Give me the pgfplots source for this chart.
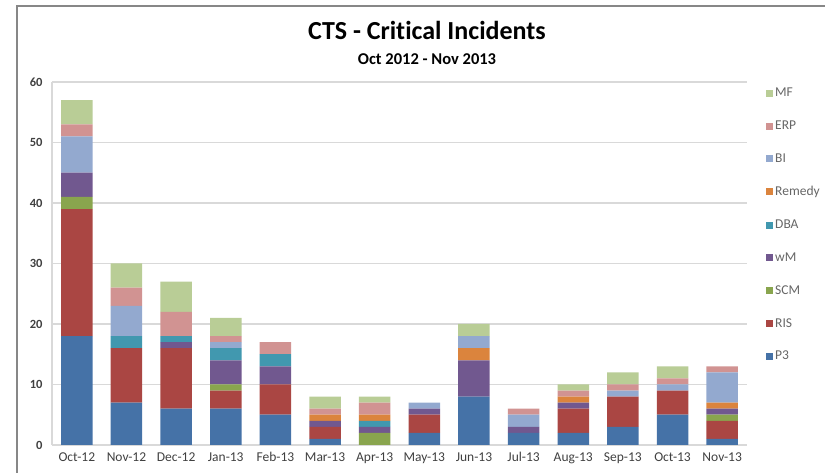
\documentclass[border=0pt]{standalone}
\usepackage{pgfplots}
\usepackage{pgfplotstable}
\usepackage{fontspec}
\setmainfont{Carlito}[Ligatures={NoCommon}]
\pgfplotsset{compat=1.18}

\definecolor{cP3}{HTML}{4572A7}
\definecolor{cRIS}{HTML}{AA4643}
\definecolor{cSCM}{HTML}{89A54E}
\definecolor{cwM}{HTML}{71588F}
\definecolor{cDBA}{HTML}{4198AF}
\definecolor{cRemedy}{HTML}{DB843D}
\definecolor{cBI}{HTML}{93A9CF}
\definecolor{cERP}{HTML}{D19392}
\definecolor{cMF}{HTML}{B9CD96}
\definecolor{gridgray}{HTML}{D9D9D9}
\definecolor{labelgray}{HTML}{404040}

% Critical incidents per month and system
\pgfplotstableread{
x  P3 RIS SCM wM DBA Remedy BI ERP MF
0  18 21  2   4  0   0      6  2   4
1  7  9   0   0  2   0      5  3   4
2  6  10  0   1  1   0      0  4   5
3  6  3   1   4  2   0      1  1   3
4  5  5   0   3  2   0      0  2   0
5  1  2   0   1  0   1      0  1   2
6  0  0   2   1  1   1      0  2   1
7  2  3   0   1  0   0      1  0   0
8  8  0   0   6  0   2      2  0   2
9  2  0   0   1  0   0      2  1   0
10 2  4   0   1  0   1      0  1   1
11 3  5   0   0  0   0      1  1   2
12 5  4   0   0  0   0      1  1   2
13 1  3   1   1  0   1      5  1   0
}\incidents

\begin{document}
\begin{tikzpicture}[x=1pt,y=1pt]
\path[use as bounding box] (0,0) rectangle (825,473);
% chart frame
\draw[color=black!47, line width=1.3pt] (17,-5) -- (17,467) -- (830,467);
% titles
\node[anchor=base, font=\fontsize{26}{30}\selectfont\bfseries] at (427,433) {CTS - Critical Incidents};
\node[anchor=base, font=\fontsize{16.5}{19}\selectfont\bfseries] at (427,408) {Oct 2012 - Nov 2013};

\begin{axis}[
  at={(52pt,28pt)}, anchor=south west,
  scale only axis, width=695pt, height=363pt,
  ybar stacked, bar width=31.5pt,
  xmin=-0.5, xmax=13.5, ymin=0, ymax=60,
  xtick=data,
  xticklabels={Oct-12,Nov-12,Dec-12,Jan-13,Feb-13,Mar-13,Apr-13,May-13,Jun-13,Jul-13,Aug-13,Sep-13,Oct-13,Nov-13},
  ytick={0,10,...,60},
  major tick length=0pt,
  axis x line*=bottom, axis y line*=left,
  axis line style={gridgray, line width=1.2pt, -},
  ymajorgrids, grid style={gridgray, line width=1.2pt},
  xticklabel style={font=\fontsize{13.5}{16}\selectfont, text=labelgray, yshift=-4pt},
  yticklabel style={font=\fontsize{12.5}{15}\selectfont\bfseries, text=labelgray, xshift=-6pt},
  /pgf/number format/assume math mode=true,
  reverse legend,
  legend cell align=left,
  legend style={draw=none, fill=none, at={(1,1)}, anchor=north west,
    xshift=16pt, yshift=-2pt, row sep=18.6pt,
    font=\fontsize{13.5}{16}\selectfont, text=black!60,
    /tikz/every even column/.append style={column sep=1pt}},
  legend image code/.code={\fill[#1] (0pt,-3.5pt) rectangle (7pt,3.5pt);},
]
\addplot[fill=cP3, draw=none] table[x=x, y=P3] {\incidents};
\addplot[fill=cRIS, draw=none] table[x=x, y=RIS] {\incidents};
\addplot[fill=cSCM, draw=none] table[x=x, y=SCM] {\incidents};
\addplot[fill=cwM, draw=none] table[x=x, y=wM] {\incidents};
\addplot[fill=cDBA, draw=none] table[x=x, y=DBA] {\incidents};
\addplot[fill=cRemedy, draw=none] table[x=x, y=Remedy] {\incidents};
\addplot[fill=cBI, draw=none] table[x=x, y=BI] {\incidents};
\addplot[fill=cERP, draw=none] table[x=x, y=ERP] {\incidents};
\addplot[fill=cMF, draw=none] table[x=x, y=MF] {\incidents};
\legend{P3,RIS,SCM,wM,DBA,Remedy,BI,ERP,MF}
\end{axis}
\end{tikzpicture}
\end{document}
